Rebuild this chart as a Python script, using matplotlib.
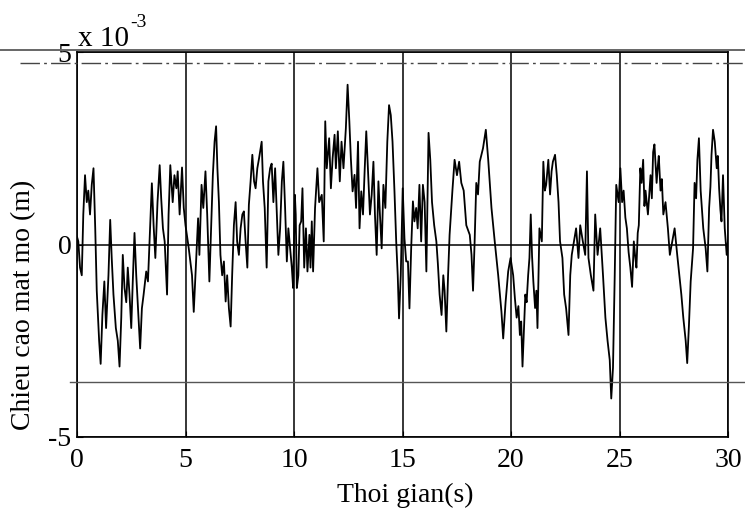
import numpy as np
import matplotlib.pyplot as plt
from matplotlib.lines import Line2D

# values, heights in units of 1e-3 m
t_0_5 = [0.0, 0.06, 0.14, 0.22, 0.29, 0.37, 0.45, 0.52, 0.60, 0.68,
         0.76, 0.84, 0.91, 1.02, 1.09, 1.17, 1.26, 1.34, 1.45, 1.53,
         1.60, 1.68, 1.79, 1.88, 1.96, 2.04, 2.11, 2.19, 2.27, 2.34,
         2.42, 2.50, 2.57, 2.65, 2.73, 2.81, 2.91, 2.99, 3.07, 3.19,
         3.27, 3.38, 3.45, 3.53, 3.61, 3.71, 3.81, 3.88, 3.96, 4.04,
         4.15, 4.22, 4.30, 4.41, 4.49, 4.58, 4.64, 4.73, 4.84, 4.92]
h_0_5 = [0.2, 0.08, -0.6, -0.8, 0.78, 1.8, 1.1, 1.4, 0.78, 1.55,
         1.98, 0.42, -1.2, -2.5, -3.1, -1.83, -0.96, -2.17, -0.8, 0.64,
         -0.35, -1.3, -2.17, -2.5, -3.17, -1.9, -0.27, -1.13, -1.5, -0.6,
         -1.3, -2.17, -0.96, 0.3, -0.8, -1.66, -2.7, -1.66, -1.3, -0.7,
         -0.96, 0.6, 1.59, 0.5, -0.35, 1.1, 2.06, 1.2, 0.42, 0.08,
         -1.3, 0.78, 2.06, 1.1, 1.8, 1.46, 1.9, 0.78, 2.0, 0.95]

t_5_10 = [5.00, 5.15, 5.30, 5.38, 5.46, 5.58, 5.64, 5.74, 5.82, 5.92,
          6.00, 6.10, 6.18, 6.26, 6.34, 6.41, 6.47, 6.54, 6.61, 6.69,
          6.77, 6.85, 6.92, 7.00, 7.08, 7.15, 7.23, 7.31, 7.38, 7.46,
          7.54, 7.62, 7.69, 7.77, 7.85, 7.92, 8.00, 8.08, 8.16, 8.23,
          8.31, 8.39, 8.51, 8.57, 8.65, 8.74, 8.82, 8.90, 8.97, 9.05,
          9.13, 9.20, 9.28, 9.36, 9.44, 9.51, 9.59, 9.67, 9.74, 9.82,
          9.90, 9.96]
h_5_10 = [0.5, -0.1, -0.8, -1.75, -0.8, 0.68, -0.27, 1.55, 0.95, 1.9,
          0.78, -0.96, 0.42, 1.8, 2.67, 3.07, 1.98, 1.1, -0.27, -0.8,
          -0.44, -1.48, -0.8, -1.66, -2.13, -0.8, 0.5, 1.1, 0.08, -0.27,
          0.42, 0.78, 0.86, 0.08, -0.6, 1.03, 1.64, 2.33, 1.64, 1.46,
          1.98, 2.24, 2.67, 1.64, 0.95, -0.6, 1.64, 1.98, 2.1, 1.1,
          1.98, 0.95, -0.27, 0.42, 1.64, 2.15, 0.95, -0.44, 0.42, -0.1,
          -0.6, -1.13]

t_10_15 = [10.04, 10.08, 10.13, 10.20, 10.26, 10.33, 10.39, 10.47, 10.55, 10.62,
           10.71, 10.76, 10.82, 10.88, 10.97, 11.08, 11.16, 11.28, 11.37, 11.44,
           11.51, 11.62, 11.70, 11.78, 11.87, 11.93, 12.02, 12.11, 12.19, 12.28,
           12.39, 12.47, 12.55, 12.62, 12.70, 12.79, 12.86, 12.95, 13.02, 13.10,
           13.18, 13.26, 13.33, 13.42, 13.50, 13.58, 13.66, 13.73, 13.81, 13.89,
           13.96, 14.04, 14.12, 14.21, 14.30, 14.38, 14.46, 14.54, 14.63, 14.71,
           14.78, 14.84, 14.92]
h_10_15 = [1.29, 0.78, -1.13, -0.8, 0.5, 0.6, 1.46, -0.6, 0.42, -0.7,
           0.25, -0.6, 0.6, -0.7, 0.95, 1.98, 1.1, 1.29, 0.08, 3.2,
           1.98, 2.76, 1.46, 2.24, 2.85, 1.98, 2.94, 1.64, 2.67, 1.98,
           3.02, 4.15, 3.2, 2.24, 1.38, 1.81, 0.95, 2.67, 0.42, 1.38,
           0.78, 1.98, 2.94, 1.81, 0.78, 1.29, 2.15, 0.78, -0.27, 1.64,
           0.78, -0.1, 1.55, 0.95, 2.67, 3.62, 3.36, 2.67, 1.38, 0.08,
           -0.8, -1.92, -0.8]

t_15_20 = [15.01, 15.09, 15.17, 15.25, 15.32, 15.40, 15.48, 15.55, 15.63, 15.70,
           15.78, 15.86, 15.94, 16.02, 16.10, 16.20, 16.28, 16.36, 16.46, 16.56,
           16.63, 16.71, 16.80, 16.88, 16.94, 17.02, 17.10, 17.17, 17.30, 17.40,
           17.51, 17.61, 17.71, 17.82, 17.94, 18.10, 18.18, 18.25, 18.32, 18.40,
           18.48, 18.56, 18.71, 18.84, 18.95, 19.10, 19.25, 19.41, 19.56, 19.64,
           19.75, 19.87, 19.98]
h_15_20 = [1.46, 0.16, -0.44, -0.44, -1.66, -0.1, 1.12, 0.6, 0.95, 0.42,
           1.55, 0.08, 1.55, 1.1, -0.7, 2.9, 2.2, 1.1, 0.5, 0.08,
           -0.5, -1.3, -1.83, -0.8, -1.2, -2.26, -0.8, 0.25, 1.4, 2.2,
           1.8, 2.15, 1.6, 1.4, 0.5, 0.25, -0.27, -1.2, 0.0, 1.6,
           1.3, 2.15, 2.5, 2.98, 2.2, 0.95, 0.08, -0.8, -1.75, -2.44,
           -1.5, -0.7, -0.35]

t_20_25 = [20.10, 20.18, 20.26, 20.34, 20.41, 20.47, 20.53, 20.60, 20.66, 20.72,
           20.79, 20.85, 20.91, 20.97, 21.03, 21.11, 21.17, 21.22, 21.31, 21.42,
           21.49, 21.56, 21.62, 21.72, 21.80, 21.87, 21.93, 22.03, 22.11, 22.19,
           22.26, 22.37, 22.45, 22.54, 22.65, 22.73, 22.80, 22.88, 23.00, 23.11,
           23.19, 23.31, 23.42, 23.50, 23.57, 23.68, 23.80, 23.88, 23.99, 24.11,
           24.24, 24.35, 24.45, 24.55, 24.62, 24.70, 24.78, 24.85, 24.96]
h_20_25 = [-0.8, -1.4, -1.9, -1.6, -2.35, -2.0, -3.17, -2.2, -1.3, -1.5,
           -0.8, -0.35, 0.78, -0.3, -0.96, -1.65, -1.2, -2.17, 0.42, 0.08,
           2.15, 1.4, 1.55, 2.2, 1.3, 1.9, 2.15, 2.33, 1.8, 1.1,
           0.08, -0.35, -1.3, -1.66, -2.35, -0.8, -0.27, 0.0, 0.42, -0.35,
           0.5, 0.08, -0.27, 1.9, -0.35, -0.8, -1.2, 0.78, -0.27, 0.42,
           -0.8, -1.9, -2.5, -3.0, -4.0, -3.2, -0.8, 1.55, 1.1]

t_25_30 = [25.04, 25.12, 25.19, 25.27, 25.34, 25.42, 25.50, 25.58, 25.66, 25.72,
           25.78, 25.84, 25.89, 25.96, 26.02, 26.09, 26.15, 26.20, 26.31, 26.37,
           26.43, 26.49, 26.55, 26.61, 26.71, 26.76, 26.81, 26.89, 26.95, 27.02,
           27.12, 27.23, 27.32, 27.43, 27.54, 27.66, 27.74, 27.85, 27.94, 28.05,
           28.12, 28.20, 28.28, 28.39, 28.46, 28.53, 28.59, 28.66, 28.74, 28.80,
           28.86, 28.97, 29.05, 29.13, 29.19, 29.24, 29.31, 29.39, 29.48, 29.53,
           29.59, 29.65, 29.70, 29.77, 29.85, 29.94, 30.0]
h_25_30 = [1.98, 1.1, 1.4, 0.7, 0.42, -0.2, -0.6, -1.1, 0.08, -0.3,
           -0.6, 0.3, 0.5, 1.98, 1.6, 2.2, 1.0, 1.4, 0.78, 1.3,
           1.8, 1.2, 2.4, 2.6, 1.6, 2.0, 2.3, 1.4, 1.7, 0.78,
           1.1, 0.42, -0.27, 0.08, 0.42, -0.27, -0.7, -1.3, -1.9, -2.5,
           -3.08, -2.1, -0.96, -0.1, 1.6, 1.2, 2.2, 2.76, 1.4, 0.9,
           0.42, -0.1, -0.7, 0.95, 1.5, 2.33, 2.98, 2.67, 1.98, 2.3,
           1.46, 0.9, 0.6, 1.8, 0.42, -0.27, 0.1]

x_ticks = [0, 5, 10, 15, 20, 25, 30]
y_ticks = [-5, 0, 5]

t = np.concatenate([t_0_5, t_5_10, t_10_15, t_15_20, t_20_25, t_25_30])
h = np.concatenate([h_0_5, h_5_10, h_10_15, h_15_20, h_20_25, h_25_30])

plt.rcParams['font.family'] = ['Liberation Serif', 'DejaVu Serif']
plt.rcParams['axes.unicode_minus'] = False

W, H = 745, 521
fig = plt.figure(figsize=(W / 100, H / 100), dpi=100)
ax = fig.add_axes([77 / W, 84 / H, 651 / W, 385 / H])

ax.plot(t, h, color='black', linewidth=1.3)

ax.set_xlim(0, 30)
ax.set_ylim(-5, 5)
ax.set_xticks(x_ticks)
ax.set_yticks(y_ticks)
ax.grid(True, color='black', linestyle='-', linewidth=1.1)
ax.tick_params(direction='in', length=4, labelsize=20, colors='black')
ax.tick_params(axis='x', pad=8)
ax.tick_params(axis='y', pad=4)
for s in ax.spines.values():
    s.set_linewidth(1.2)

# exponent label written the way the old figure shows it
fig.text(78 / W, 1 - 46 / H, 'x 10', ha='left', va='baseline', fontsize=21)
fig.text(130 / W, 1 - 27 / H, '-3', ha='left', va='baseline', fontsize=14)
fig.text(405 / W, 1 - 495 / H, 'Thoi gian(s)', ha='center', va='center', fontsize=20)
fig.text(24 / W, 1 - 305 / H, 'Chieu cao mat mo (m)', ha='center', va='center',
         rotation=90, fontsize=20)

# scan lines crossing the page
fig.add_artist(Line2D([0, 1], [1 - 50 / H] * 2, color='#666666', linewidth=1.4))
fig.add_artist(Line2D([20 / W, 1], [1 - 63 / H] * 2, color='#444444', linewidth=1.0,
                      dashes=(14, 3, 2, 3)))
fig.add_artist(Line2D([70 / W, 1], [1 - 382 / H] * 2, color='#555555', linewidth=1.0))

fig.savefig('out.png', dpi=100)
